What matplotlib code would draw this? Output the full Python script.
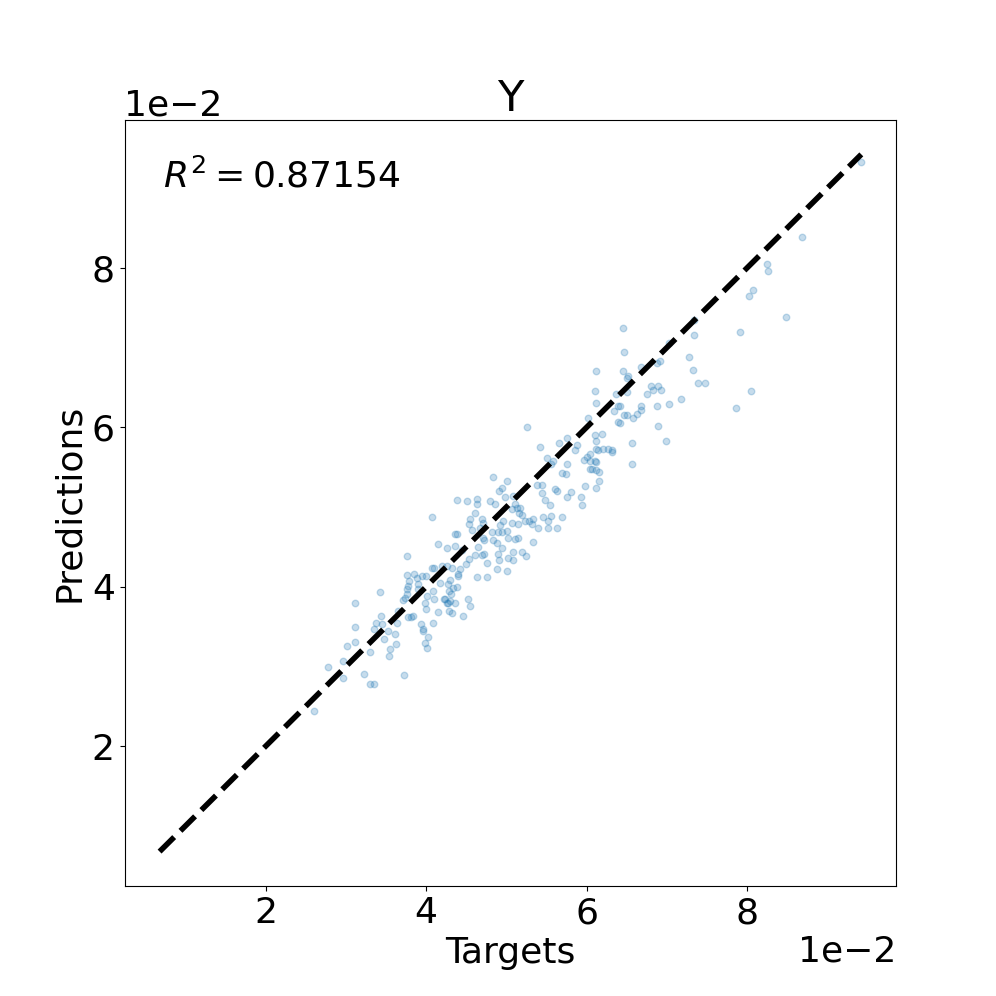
import matplotlib
matplotlib.use("Agg")
import matplotlib.pyplot as plt
import numpy as np

# values in units of 1e-2
targets = [
    2.60, 2.78, 2.97, 2.97, 3.02, 3.12, 3.11, 3.11, 3.22, 3.30, 3.35, 3.30, 3.35, 3.38, 3.44, 3.45,
    3.42, 3.48, 3.52, 3.55, 3.54, 3.61, 3.63, 3.64, 3.65, 3.71, 3.74, 3.76, 3.76, 3.78, 3.79, 3.76,
    3.73, 3.78, 3.81, 3.84, 3.85, 3.89, 3.90, 3.90, 3.95, 4.00, 3.94, 3.96, 3.96, 3.98, 4.01, 4.02,
    3.99, 4.00, 4.01, 4.09, 4.10, 4.09, 4.15, 4.17, 4.07, 4.10, 4.20, 4.26, 4.22, 4.26, 4.27, 4.29,
    4.29,
    3.76, 4.07, 4.15, 4.26, 4.36, 4.39, 4.36, 4.39, 4.51, 4.63, 4.63, 4.61, 4.55, 4.53, 4.57, 4.70,
    4.71, 4.67, 4.71, 4.72, 4.65, 4.61, 4.70, 4.72, 4.53, 4.45, 4.50, 4.42, 4.40, 4.32, 4.40, 4.30,
    4.34, 4.39, 4.31, 4.30, 4.27, 4.36, 4.32, 4.24, 4.46, 4.52, 4.55, 4.63, 4.76, 4.76, 4.89, 4.88,
    4.91, 4.83, 4.88, 4.82, 4.89, 4.94, 5.01, 5.02, 4.94, 5.01, 5.02, 5.08, 5.08, 5.11, 5.14, 5.20,
    5.24, 5.14, 5.07, 4.96, 4.92, 4.80, 4.86, 4.91, 4.94, 5.01, 4.83, 4.98, 5.08, 5.11, 5.13, 5.17,
    5.07, 5.20, 5.23, 5.16, 5.33, 5.32, 5.38, 5.39, 5.33, 5.28,
    5.25, 5.42, 5.50, 5.55, 5.65, 5.76, 5.88, 5.85, 5.58, 5.69, 5.74, 5.76, 5.44, 5.44, 5.48, 5.54,
    5.61, 5.63, 5.55, 5.52, 5.45, 5.63, 5.52, 5.69, 5.80, 5.76, 5.93, 5.94, 5.98, 6.12, 6.15, 6.04,
    6.07, 6.11, 6.15, 5.96, 6.00, 6.04, 6.10, 6.11, 6.04, 6.12, 6.14, 6.12, 6.10, 6.19, 6.20, 6.26,
    6.32, 6.32, 6.02, 6.12, 6.39, 6.42, 6.34, 6.47, 6.50, 6.39, 6.41, 6.58, 6.62, 6.57, 6.56,
    6.45, 6.46, 6.12, 6.45, 6.50, 6.51, 6.10, 6.37, 6.50, 6.67, 6.91, 6.87, 7.03, 6.80, 6.83, 6.89,
    6.93, 6.75, 6.68, 6.67, 6.87, 7.03, 7.18, 6.89, 6.99, 7.28, 7.32, 7.33, 7.34, 7.38, 7.47, 7.86,
    8.68, 8.25, 8.26, 8.07, 8.02, 8.48, 7.91, 8.04, 9.42,
]
predictions = [
    2.44, 2.99, 3.07, 2.86, 3.26, 3.31, 3.79, 3.50, 2.91, 2.78, 2.78, 3.18, 3.47, 3.55, 3.63, 3.53,
    3.94, 3.35, 3.45, 3.22, 3.13, 3.41, 3.28, 3.55, 3.70, 3.84, 3.86, 3.91, 3.97, 4.01, 4.07, 4.15,
    2.89, 3.62, 3.62, 3.63, 4.16, 4.11, 4.04, 3.97, 4.14, 4.14, 3.53, 3.47, 3.45, 3.30, 3.23, 3.37,
    3.80, 3.72, 3.89, 3.95, 3.85, 3.55, 3.68, 4.05, 4.24, 4.24, 4.26, 4.26, 3.85, 3.80, 4.04, 3.95,
    3.70,
    4.38, 4.87, 4.54, 4.49, 4.66, 4.66, 4.51, 5.09, 5.07, 5.10, 5.04, 4.93, 4.85, 4.79, 4.71, 4.85,
    4.80, 4.74, 4.61, 4.58, 4.50, 4.40, 4.40, 4.41, 4.35, 4.46, 4.29, 4.22, 4.16, 4.24, 4.14, 4.09,
    3.99, 4.00, 3.91, 3.82, 3.79, 3.79, 3.67, 3.85, 3.63, 3.85, 3.76, 4.12, 4.12, 4.30, 4.41, 4.22,
    4.34, 4.58, 4.55, 4.68, 4.68, 4.69, 4.70, 4.61, 4.48, 4.20, 4.36, 4.33, 4.44, 4.60, 4.61, 4.43,
    4.38, 4.79, 4.80, 4.83, 4.77, 5.08, 5.04, 5.20, 5.24, 5.32, 5.37, 5.12, 5.14, 5.04, 4.99, 4.99,
    4.97, 4.90, 4.82, 4.92, 4.85, 4.79, 5.27, 4.74, 4.56, 4.82,
    6.00, 5.75, 5.62, 5.54, 5.80, 5.86, 5.78, 5.72, 5.57, 5.42, 5.41, 5.54, 5.27, 5.17, 5.09, 5.03,
    5.23, 5.20, 4.89, 4.83, 4.87, 4.74, 4.74, 4.87, 5.19, 5.12, 5.13, 5.03, 5.26, 5.24, 5.32, 5.48,
    5.48, 5.46, 5.44, 5.59, 5.63, 5.57, 5.58, 5.56, 5.67, 5.73, 5.71, 5.83, 5.90, 5.92, 5.73, 5.73,
    5.71, 5.69, 6.12, 6.30, 6.26, 6.26, 6.20, 6.15, 6.15, 6.06, 6.05, 6.12, 6.17, 5.80, 5.54,
    7.24, 6.94, 6.70, 6.71, 6.62, 6.64, 6.46, 6.42, 6.44, 6.76, 6.83, 6.80, 7.06, 6.52, 6.47, 6.52,
    6.47, 6.41, 6.26, 6.22, 6.27, 6.29, 6.35, 6.01, 5.83, 6.88, 6.72, 7.16, 7.34, 6.56, 6.56, 6.24,
    8.38, 8.04, 7.96, 7.72, 7.64, 7.38, 7.19, 6.45, 9.33,
]
line_lo, line_hi = 0.68, 9.42
r2_value = 0.87154
scale = 1e-2

plt.rcParams['font.size'] = 26

x = np.array(targets) * scale
y = np.array(predictions) * scale

fig = plt.figure(figsize=(9.96, 9.96), dpi=100)
ax = fig.add_subplot(111)
ax.scatter(x, y, s=22, alpha=0.25, color='C0')
ax.plot([line_lo * scale, line_hi * scale], [line_lo * scale, line_hi * scale], 'k--', lw=4)
ax.set_title('Y')
ax.set_xlabel('Targets')
ax.set_ylabel('Predictions')
ax.ticklabel_format(style='sci', scilimits=(0, 0), axis='both')
ax.tick_params(labelsize=26)
ax.xaxis.get_offset_text().set_fontsize(26)
ax.yaxis.get_offset_text().set_fontsize(26)
ax.text(0.05, 0.95, '$R^2 = %.5f$' % r2_value, transform=ax.transAxes, fontsize=26,
        va='top', ha='left')
fig.savefig('out.png', dpi=100)
